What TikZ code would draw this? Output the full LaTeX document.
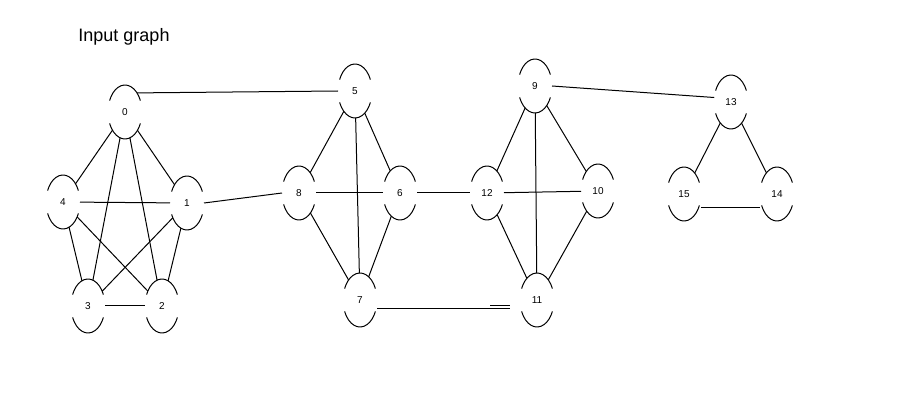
\documentclass[tikz,border=0pt]{standalone}
\usepackage{fontspec}
\setmainfont{Liberation Sans}
\usetikzlibrary{shapes.geometric, calc}

\begin{document}
\begin{tikzpicture}[x=1pt, y=1pt,
    vtx/.style={ellipse, minimum width=34pt, minimum height=54pt, inner sep=0pt, outer sep=0pt, font=\fontsize{10}{12}\selectfont},
    edge/.style={line width=1pt}]
    \useasboundingbox (0,0) rectangle (906,413);
    \node[font=\fontsize{18}{21}\selectfont] (title) at (124,376) {Input graph};
    % vertices
    \node[vtx] (v0) at (125,301) {0};
    \node[vtx] (v4) at (63,211) {4};
    \node[vtx] (v1) at (187,210) {1};
    \node[vtx] (v3) at (88,107) {3};
    \node[vtx] (v2) at (162,107) {2};
    \node[vtx] (v5) at (355,322) {5};
    \node[vtx] (v8) at (299,220) {8};
    \node[vtx] (v6) at (400,220) {6};
    \node[vtx] (v7) at (360,113) {7};
    \node[vtx] (v9) at (535,327) {9};
    \node[vtx] (v12) at (487,220) {12};
    \node[vtx] (v10) at (598,222) {10};
    \node[vtx] (v11) at (537,113) {11};
    \node[vtx] (v13) at (731,311) {13};
    \node[vtx] (v15) at (684,219) {15};
    \node[vtx] (v14) at (777,219) {14};
    % outlines: only top and bottom arcs
    \foreach \v in {0,...,15}
        \draw[edge] ($(v\v.center)+(25:17pt and 27pt)$) arc[start angle=25, end angle=155, x radius=17pt, y radius=27pt]
            ($(v\v.center)+(205:17pt and 27pt)$) arc[start angle=205, end angle=335, x radius=17pt, y radius=27pt];
    % edges
    \foreach \a/\b in {0/4,0/1,0/3,0/2,4/1,4/3,4/2,1/3,1/2,3/2,5/8,5/6,5/7,8/6,8/7,6/7,6/12,9/12,9/10,9/11,12/10,12/11,10/11,13/15,13/14}
        \draw[edge] (v\a) -- (v\b);
    \draw[edge] (v0.north east) -- (v5.west);
    \draw[edge] (v1.east) -- (v8.west);
    \draw[edge] (v9.east) -- (v13.165);
    \draw[edge] ([yshift=-9pt]v7.east) -- ([yshift=-9pt,xshift=-10pt]v11.west);
    \draw[edge] ([yshift=-6pt,xshift=-30pt]v11.west) -- ([yshift=-6pt,xshift=-10pt]v11.west);
    \draw[edge] ([yshift=-14pt]v15.east) -- ([yshift=-14pt]v14.west);
\end{tikzpicture}
\end{document}
